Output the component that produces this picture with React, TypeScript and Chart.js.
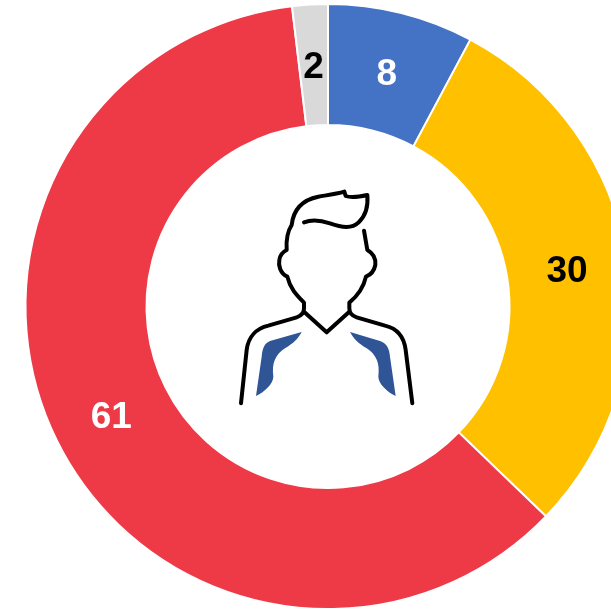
import React, { useEffect, useRef } from "react";
import { Chart, registerables } from "chart.js";

Chart.register(...registerables);

const categories = ["A", "B", "C", "D"];
const seriesValues = [7.8, 29.4, 60.9, 1.9];
const sliceLabels = ["8", "30", "61", "2"];
const sliceColors = ["#4472C4", "#FFC000", "#EE3947", "#D9D9D9"];
const labelColors = ["#FFFFFF", "#000000", "#FFFFFF", "#000000"];

const labelPlugin = {
  id: "sliceLabels",
  afterDatasetsDraw(chart: any) {
    const { ctx } = chart;
    const meta = chart.getDatasetMeta(0);
    ctx.save();
    ctx.font = 'bold 37px "Liberation Sans", Arial, sans-serif';
    ctx.textAlign = "center";
    ctx.textBaseline = "middle";
    meta.data.forEach((arc: any, i: number) => {
      const p = arc.getCenterPoint();
      ctx.fillStyle = labelColors[i];
      ctx.fillText(sliceLabels[i], p.x, p.y + 3);
    });
    ctx.restore();
  },
};

export default function App() {
  const ref = useRef<HTMLCanvasElement | null>(null);
  useEffect(() => {
    if (!ref.current) return;
    const chart = new Chart(ref.current, {
      type: "doughnut",
      data: {
        labels: categories,
        datasets: [
          {
            data: seriesValues,
            backgroundColor: sliceColors,
            borderColor: "#FFFFFF",
            borderWidth: 2,
          },
        ],
      },
      options: {
        responsive: false,
        animation: false,
        cutout: "60%",
        layout: { padding: 3 },
        plugins: { legend: { display: false }, tooltip: { enabled: false } },
      },
      plugins: [labelPlugin],
    });
    return () => chart.destroy();
  }, []);

  return (
    <div style={{ position: "fixed", left: 0, top: 0, width: 611, height: 610, overflow: "hidden", background: "#fff" }}>
      <canvas ref={ref} width={656} height={613} style={{ display: "block", width: 656, height: 613 }} />
      <svg
        viewBox="0 0 585 705"
        width={195}
        height={235}
        style={{ position: "absolute", left: 230, top: 180 }}
        fill="none"
        stroke="#000"
        strokeWidth={12}
        strokeLinecap="round"
        strokeLinejoin="round"
      >
        <path d="M33 670 L50 510 C55 470 80 445 115 437 L200 412 Q222 405 222 385 L222 368 C200 345 180 325 172 290 C150 280 145 255 148 240 C150 225 160 215 170 210 C168 180 172 155 185 135 C190 90 215 60 265 50 C295 45 320 42 343 35 L347 48 C365 55 390 50 412 45 C415 80 405 110 385 128 C365 148 335 143 300 130 C270 120 245 118 222 127" />
        <path d="M402 152 L412 210 C430 220 438 235 436 255 C432 275 420 285 408 290 C400 325 380 350 358 368 L358 385 Q358 405 380 412 L465 437 C500 445 522 470 527 510 L547 670" />
        <path d="M222 395 L290 457 L358 395" />
        <path stroke="none" fill="#2F5597" d="M215 456 L120 483 C105 490 98 500 95 530 L78 648 C105 635 130 610 130 590 C125 550 135 525 165 505 C190 490 205 475 215 456 Z" />
        <path stroke="none" fill="#2F5597" d="M360 456 L450 483 C470 490 478 505 480 530 L497 648 C470 635 445 610 445 590 C450 550 440 525 410 505 C385 490 370 475 360 456 Z" />
      </svg>
    </div>
  );
}
